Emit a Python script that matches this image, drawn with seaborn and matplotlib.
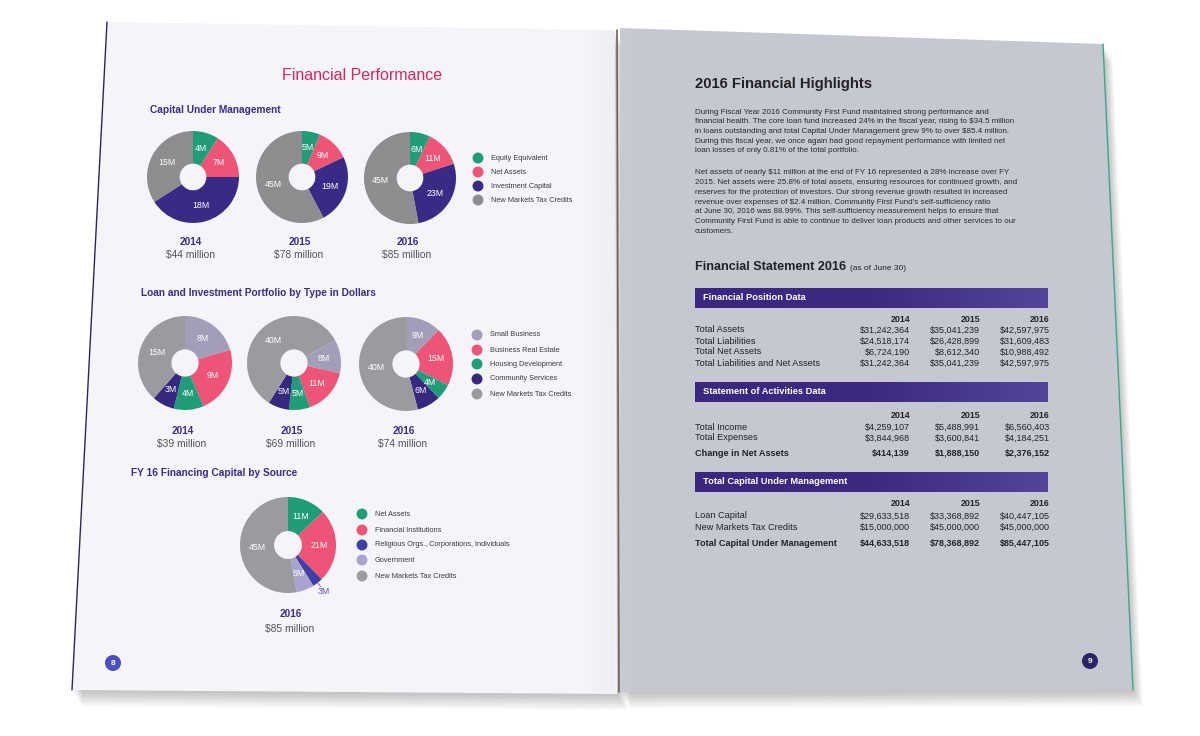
import numpy as np
import matplotlib
matplotlib.use("Agg")
import matplotlib.pyplot as plt
import seaborn as sns
from matplotlib.patches import Polygon, Rectangle, Circle
from matplotlib.colors import LinearSegmentedColormap

# ---------------- data ----------------
cum_categories = ["Equity Equivalent", "Net Assets", "Investment Capital", "New Markets Tax Credits"]
cum_years = ["2014", "2015", "2016"]
cum_totals = ["$44 million", "$78 million", "$85 million"]
cum_2014 = [4, 7, 18, 15]
cum_2015 = [5, 9, 19, 45]
cum_2016 = [6, 11, 23, 45]

port_categories = ["Small Business", "Business Real Estate", "Housing Development",
                   "Community Services", "New Markets Tax Credits"]
port_years = ["2014", "2015", "2016"]
port_totals = ["$39 million", "$69 million", "$74 million"]
port_2014 = [8, 9, 4, 3, 15]
port_2015 = [8, 11, 5, 5, 40]
port_2016 = [9, 15, 4, 6, 40]

src_categories = ["Net Assets", "Financial Institutions",
                  "Religious Orgs., Corporations, Individuals", "Government",
                  "New Markets Tax Credits"]
src_year = "2016"
src_total = "$85 million"
src_2016 = [11, 21, 3, 5, 45]

highlights_p1 = [
    "During Fiscal Year 2016 Community First Fund maintained strong performance and",
    "financial health. The core loan fund increased 24% in the fiscal year, rising to $34.5 million",
    "in loans outstanding and total Capital Under Management grew 9% to over $85.4 million.",
    "During this fiscal year, we once again had good repayment performance with limited net",
    "loan losses of only 0.81% of the total portfolio.",
]
highlights_p2 = [
    "Net assets of nearly $11 million at the end of FY 16 represented a 28% increase over FY",
    "2015. Net assets were 25.8% of total assets, ensuring resources for continued growth, and",
    "reserves for the protection of investors. Our strong revenue growth resulted in increased",
    "revenue over expenses of $2.4 million. Community First Fund's self-sufficiency ratio",
    "at June 30, 2016 was 88.99%. This self-sufficiency measurement helps to ensure that",
    "Community First Fund is able to continue to deliver loan products and other services to our",
    "customers.",
]

fin_years = ["2014", "2015", "2016"]
position_rows = ["Total Assets", "Total Liabilities", "Total Net Assets",
                 "Total Liabilities and Net Assets"]
position_vals = [[31242364, 35041239, 42597975],
                 [24518174, 26428899, 31609483],
                 [6724190, 8612340, 10988492],
                 [31242364, 35041239, 42597975]]
activity_rows = ["Total Income", "Total Expenses", "Change in Net Assets"]
activity_vals = [[4259107, 5488991, 6560403],
                 [3844968, 3600841, 4184251],
                 [414139, 1888150, 2376152]]
capital_rows = ["Loan Capital", "New Markets Tax Credits", "Total Capital Under Management"]
capital_vals = [[29633518, 33368892, 40447105],
                [15000000, 45000000, 45000000],
                [44633518, 78368892, 85447105]]

# ---------------- style ----------------
sns.set_theme(style="white")
plt.rcParams["font.family"] = ["Liberation Sans", "DejaVu Sans"]

GREEN = "#1f9d78"
PINK = "#ee5475"
PURPLE = "#3a2a86"
GRAY = "#8f8c8f"
LAV = "#a39eb8"
COMM = "#35297f"
RELIG = "#3f3fa6"
GOV = "#a8a4cf"
GRAY2 = "#9c9a9f"
HEAD = "#3b2c8a"
TITLE = "#d6285b"
MONEY = "#555559"
INK = "#222226"

cum_colors = [GREEN, PINK, PURPLE, GRAY]
port_colors = [LAV, PINK, GREEN, COMM, GRAY2]
src_colors = [GREEN, PINK, RELIG, GOV, GRAY2]

W, H = 1200, 736
fig = plt.figure(figsize=(W / 100, H / 100), dpi=100)
fig.patch.set_facecolor("white")
ax = fig.add_axes([0, 0, 1, 1])
ax.set_facecolor("white")


def T(x, y, s, **kw):
    kw.setdefault("va", "center")
    kw.setdefault("ha", "left")
    return ax.text(x, y, s, parse_math=False, **kw)


# ---------------- pages and shadows ----------------
left_page = [(107, 22), (615, 30), (617, 694), (72, 690)]
right_page = [(620, 28), (1103, 44), (1133, 690), (620, 692)]
for i in range(10):
    d = 2 + i * 1.6
    for pg in (left_page, right_page):
        sh = [(x + d * 0.6, y + d) for x, y in pg]
        ax.add_patch(Polygon(sh, closed=True, facecolor="black", alpha=0.025,
                             edgecolor="none", zorder=1))
ax.add_patch(Polygon(left_page, closed=True, facecolor="#f5f4f8", edgecolor="none", zorder=2))
ax.add_patch(Polygon(right_page, closed=True, facecolor="#c6c8d1", edgecolor="none", zorder=2))
# spine shading
for i in range(14):
    ax.add_patch(Rectangle((615 - 2 * i - 2, 30), 2, 662, facecolor="#7a7570",
                           alpha=0.05 * (14 - i) / 14, edgecolor="none", zorder=3))
for i in range(10):
    ax.add_patch(Rectangle((620 + 2 * i, 30), 2, 661, facecolor="#e8ecf2",
                           alpha=0.06 * (10 - i) / 10, edgecolor="none", zorder=3))
ax.plot([617, 619], [30, 692], color="#6d6458", lw=1.2, zorder=4)
ax.plot([107, 72], [22, 690], color="#2a2860", lw=1.0, zorder=4)
ax.plot([1103, 1133], [44, 690], color="#3aa98a", lw=1.0, zorder=4)

# ---------------- left page text ----------------
T(362, 76, "Financial Performance", ha="center", color=TITLE, fontsize=11.5, zorder=5)
T(150, 110, "Capital Under Management", color=HEAD, fontsize=7.3, fontweight="bold", zorder=5)
T(141, 293, "Loan and Investment Portfolio by Type in Dollars", color=HEAD, fontsize=7.3,
  fontweight="bold", zorder=5)
T(131, 473, "FY 16 Financing Capital by Source", color=HEAD, fontsize=7.3,
  fontweight="bold", zorder=5)


def donut(cx, cy, r, values, colors, start=90):
    a = fig.add_axes([(cx - r) / W, 1 - (cy + r) / H, 2 * r / W, 2 * r / H])
    wedges, texts = a.pie(values, colors=colors, startangle=start, counterclock=False,
                          labels=[f"{v}M" for v in values], labeldistance=0.645,
                          wedgeprops=dict(width=0.71, edgecolor="none"),
                          textprops=dict(color="white", fontsize=6.3, ha="center",
                                         va="center"))
    a.set_xlim(-1, 1)
    a.set_ylim(-1, 1)
    a.axis("off")
    return a, texts


def legend_dots(x, ys, cats, colors):
    sns.scatterplot(x=[x] * len(cats), y=ys, hue=cats, hue_order=cats,
                    palette=dict(zip(cats, colors)), s=62, edgecolor="none",
                    legend=False, ax=ax, zorder=6)
    for yy, c in zip(ys, cats):
        T(x + 13, yy, c, color="#3c3c40", fontsize=5.3, zorder=6)


# row 1
row1 = [(193, 177, cum_2014, 90), (302, 177, cum_2015, 90), (410, 178, cum_2016, 90)]
for (cx, cy, vals, st), yr, tot in zip(row1, cum_years, cum_totals):
    donut(cx, cy, 46, vals, cum_colors, st)
    T(cx - 2, 242, yr, ha="center", color=HEAD, fontsize=7.2, fontweight="bold", zorder=5)
    T(cx - 3, 255, tot, ha="center", color=MONEY, fontsize=7.4, zorder=5)
legend_dots(478, [158, 172, 186, 200], cum_categories, cum_colors)

# row 2
row2 = [(185, 363, port_2014, 90), (294, 363, port_2015, 29), (406, 364, port_2016, 90)]
for (cx, cy, vals, st), yr, tot in zip(row2, port_years, port_totals):
    donut(cx, cy, 47, vals, port_colors, st)
    T(cx - 2, 431, yr, ha="center", color=HEAD, fontsize=7.2, fontweight="bold", zorder=5)
    T(cx - 3, 444, tot, ha="center", color=MONEY, fontsize=7.4, zorder=5)
legend_dots(477, [335, 350, 364, 379, 394], port_categories, port_colors)

# row 3
a3, t3 = donut(288, 545, 48, src_2016, src_colors, 90)
x0, y0 = t3[2].get_position()
t3[2].set_position((x0 / 0.645 * 1.22, y0 / 0.645 * 1.22))
t3[2].set_color("#5a58b0")
a3.plot([x0 / 0.645 * 1.0, x0 / 0.645 * 1.1], [y0 / 0.645 * 1.0, y0 / 0.645 * 1.1],
        color="#5a58b0", lw=0.6)
T(291, 614, src_year, ha="center", color=HEAD, fontsize=7.2, fontweight="bold", zorder=5)
T(290, 629, src_total, ha="center", color=MONEY, fontsize=7.4, zorder=5)
legend_dots(362, [514, 530, 545, 560, 576], src_categories, src_colors)

# page numbers
ax.add_patch(Circle((113, 663), 8, facecolor="#4a50c2", edgecolor="none", zorder=6))
T(113, 663.5, "8", ha="center", color="white", fontsize=6, fontweight="bold", zorder=7)
ax.add_patch(Circle((1090, 661), 8, facecolor="#2a2468", edgecolor="none", zorder=6))
T(1090, 661.5, "9", ha="center", color="white", fontsize=6, fontweight="bold", zorder=7)

# ---------------- right page ----------------
T(695, 84, "2016 Financial Highlights", color=INK, fontsize=10.7, fontweight="bold", zorder=5)
for i, line in enumerate(highlights_p1):
    T(695, 112 + i * 9.7, line, color="#2a2a2e", fontsize=5.8, zorder=5)
for i, line in enumerate(highlights_p2):
    T(695, 173 + i * 9.7, line, color="#2a2a2e", fontsize=5.8, zorder=5)

T(695, 267, "Financial Statement 2016", color=INK, fontsize=9.1, fontweight="bold", zorder=5)
T(850, 268, "(as of June 30)", color=INK, fontsize=6, zorder=5)

col_right = [910, 980, 1050]
band_cmap = LinearSegmentedColormap.from_list("band", ["#3a2880", "#3c2a82", "#54449a"])
band_grad = np.linspace(0, 1, 256).reshape(1, -1)


def table(title, band_top, head_y, row_ys, rows, vals, bold_last):
    ax.imshow(band_grad, cmap=band_cmap, extent=(695, 1048, band_top + 20, band_top),
              aspect="auto", interpolation="bilinear", zorder=5)
    T(703, band_top + 10, title, color="white", fontsize=6.7, fontweight="bold", zorder=6)
    for xr, yr in zip(col_right, fin_years):
        T(xr, head_y, yr, ha="right", color=INK, fontsize=6.4, fontweight="bold", zorder=6)
    for j, (name, vv, yy) in enumerate(zip(rows, vals, row_ys)):
        bold = bold_last and j == len(rows) - 1
        T(695, yy, name, color=INK, fontsize=6.6, fontweight="bold" if bold else "normal",
          zorder=6)
        for xr, v in zip(col_right, vv):
            T(xr, yy, f"${v:,}", ha="right", color=INK, fontsize=6.5,
              fontweight="bold" if bold else "normal", zorder=6)


table("Financial Position Data", 288, 320, [330, 341, 352, 363], position_rows,
      position_vals, False)
table("Statement of Activities Data", 382, 416, [427, 438, 453], activity_rows,
      activity_vals, True)
table("Total Capital Under Management", 472, 504, [516, 527, 543], capital_rows,
      capital_vals, True)

ax.set_aspect("auto")
ax.set_xlim(0, W)
ax.set_ylim(H, 0)
ax.axis("off")
fig.savefig("out.png", dpi=100, facecolor="white")
